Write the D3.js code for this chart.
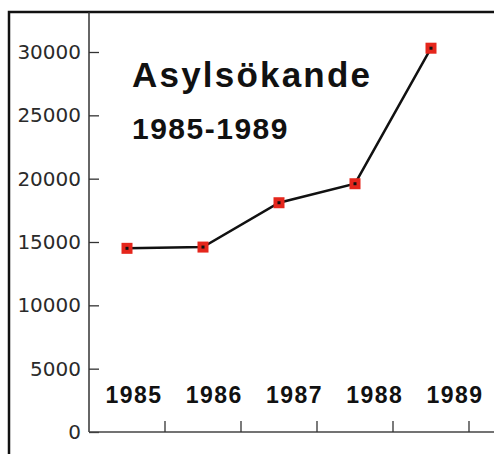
<!DOCTYPE html>
<html>
<head>
<meta charset="utf-8">
<script src="https://cdn.jsdelivr.net/npm/d3@7"></script>
<style>
	body { margin: 0; background: #fff; }
	svg { display: block; }
</style>
</head>
<body>
<div id="chart"></div>
<script>
// Asylsökande i Sverige 1985-1989
var years = ["1985", "1986", "1987", "1988", "1989"];
var seekers = [14500, 14600, 18100, 19600, 30300];
var yTicks = [0, 5000, 10000, 15000, 20000, 25000, 30000];
var title = "Asylsökande";
var subtitle = "1985-1989";

function drawChart(code) {
	var width = 494;
	var height = 454;

	var svg = d3.select(code)
		.append("svg")
		.attr("width", width)
		.attr("height", height)
		.attr("viewBox", [0, 0, width, height]);

	svg.append("rect")
		.attr("width", width)
		.attr("height", height)
		.attr("fill", "#fff");

	// frame round the picture (left and top only are visible)
	svg.append("path")
		.attr("d", "M9," + height + "V12H" + width)
		.attr("fill", "none")
		.attr("stroke", "#111")
		.attr("stroke-width", 2.5);

	var x = d3.scaleBand()
		.domain(years)
		.range([89, 469])
		.padding(0);

	var y = d3.scaleLinear()
		.domain([0, 30000])
		.range([432, 52]);

	// year labels sit a little right of the band centers
	var xLabel = d3.scalePoint()
		.domain(years)
		.range([134, 455]);

	// y axis
	var yAxis = svg.append("g")
		.attr("transform", "translate(89,0)")
		.call(d3.axisLeft(y).tickValues(yTicks).tickSize(-10).tickPadding(8).tickFormat(d3.format("d")));
	yAxis.select(".domain").remove();
	yAxis.selectAll(".tick line").attr("stroke", "#333").attr("stroke-width", 1.3);
	yAxis.selectAll(".tick text")
		.attr("fill", "#2a2a2a")
		.style("font-family", "'DejaVu Sans', sans-serif")
		.style("font-size", "20px");

	svg.append("line")
		.attr("x1", 89).attr("x2", 89)
		.attr("y1", 12).attr("y2", y(0))
		.attr("stroke", "#333")
		.attr("stroke-width", 1.5);

	// x axis, ticks at band edges
	var xAxis = svg.append("g")
		.attr("transform", "translate(0," + y(0) + ")");
	xAxis.append("line")
		.attr("x1", 89).attr("x2", width)
		.attr("stroke", "#444")
		.attr("stroke-width", 1.5);
	xAxis.selectAll(".tick")
		.data(years)
		.enter()
		.append("line")
		.attr("x1", function (d) { return x(d) + x.bandwidth(); })
		.attr("x2", function (d) { return x(d) + x.bandwidth(); })
		.attr("y1", 0).attr("y2", -11)
		.attr("stroke", "#333")
		.attr("stroke-width", 1.3);

	svg.append("g")
		.selectAll("text")
		.data(years)
		.enter()
		.append("text")
		.attr("x", function (d) { return xLabel(d); })
		.attr("y", 403)
		.attr("text-anchor", "middle")
		.style("font-family", "'Liberation Sans', Arial, sans-serif")
		.style("font-weight", "bold")
		.style("font-size", "23px")
		.style("letter-spacing", "1.5px")
		.attr("fill", "#111")
		.text(function (d) { return d; });

	// title
	svg.append("text")
		.attr("x", 132)
		.attr("y", 87)
		.style("font-family", "'Liberation Sans', Arial, sans-serif")
		.style("font-weight", "bold")
		.style("font-size", "35px")
		.style("letter-spacing", "2.2px")
		.attr("fill", "#111")
		.text(title);

	svg.append("text")
		.attr("x", 132)
		.attr("y", 139)
		.style("font-family", "'Liberation Sans', Arial, sans-serif")
		.style("font-weight", "bold")
		.style("font-size", "30px")
		.style("letter-spacing", "1.5px")
		.attr("fill", "#111")
		.text(subtitle);

	// line
	var line = d3.line()
		.x(function (d, i) { return x(years[i]) + x.bandwidth() / 2; })
		.y(function (d) { return y(d); });

	svg.append("path")
		.datum(seekers)
		.attr("d", line)
		.attr("fill", "none")
		.attr("stroke", "#111")
		.attr("stroke-width", 2.5);

	// markers
	var markers = svg.append("g")
		.selectAll("g")
		.data(seekers)
		.enter()
		.append("g")
		.attr("transform", function (d, i) {
			return "translate(" + (x(years[i]) + x.bandwidth() / 2) + "," + y(d) + ")";
		});
	markers.append("rect")
		.attr("x", -5.5).attr("y", -5.5)
		.attr("width", 11).attr("height", 11)
		.attr("fill", "#e5261c");
	markers.append("rect")
		.attr("x", -1.5).attr("y", -1.5)
		.attr("width", 3).attr("height", 3)
		.attr("fill", "#111");
}

drawChart("#chart");
</script>
</body>
</html>
